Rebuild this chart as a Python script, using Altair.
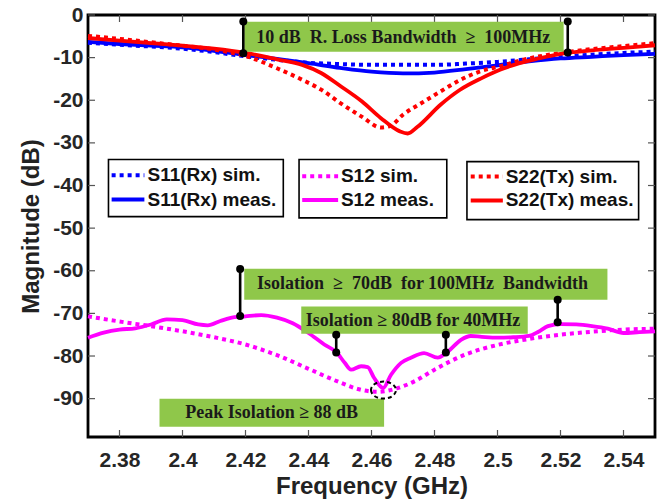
import altair as alt
import pandas as pd

# ---------------- data ----------------
x_ticks = [2.38, 2.40, 2.42, 2.44, 2.46, 2.48, 2.50, 2.52, 2.54]
y_ticks = [0, -10, -20, -30, -40, -50, -60, -70, -80, -90]

s11_sim_f = [2.37, 2.38, 2.39, 2.40, 2.41, 2.42, 2.43, 2.44, 2.45, 2.46, 2.47, 2.48, 2.49, 2.50, 2.51, 2.52, 2.53, 2.54, 2.55]
s11_sim_v = [-6.5, -7.0, -7.4, -7.9, -8.7, -9.7, -10.5, -11.2, -11.5, -11.7, -11.7, -11.7, -11.4, -11.0, -10.4, -9.8, -9.3, -8.9, -8.6]

s11_meas_f = [2.37, 2.38, 2.39, 2.40, 2.41, 2.42, 2.43, 2.44, 2.45, 2.46, 2.47, 2.48, 2.49, 2.50, 2.51, 2.52, 2.53, 2.54, 2.55]
s11_meas_v = [-6.3, -6.8, -7.2, -7.6, -8.4, -9.4, -10.3, -11.3, -12.4, -13.3, -13.7, -13.5, -12.7, -11.8, -10.9, -10.2, -9.8, -9.4, -9.1]

s22_sim_f = [2.37, 2.38, 2.39, 2.40, 2.41, 2.42, 2.43, 2.438, 2.444, 2.450, 2.457, 2.463, 2.466, 2.470, 2.476, 2.482, 2.488, 2.495, 2.501, 2.507, 2.52, 2.53, 2.54, 2.55]
s22_sim_v = [-4.9, -5.6, -6.4, -7.2, -8.1, -9.6, -12.5, -15.2, -17.5, -20.6, -23.9, -26.4, -26.0, -23.4, -20.6, -17.9, -15.3, -13.1, -12.0, -10.7, -8.9, -8.0, -7.3, -6.6]

s22_meas_f = [2.37, 2.38, 2.39, 2.40, 2.41, 2.42, 2.43, 2.438, 2.444, 2.450, 2.457, 2.463, 2.469, 2.4715, 2.4745, 2.482, 2.488, 2.495, 2.501, 2.507, 2.513, 2.52, 2.53, 2.54, 2.55]
s22_meas_v = [-5.4, -6.0, -6.6, -7.2, -7.9, -8.9, -10.4, -11.7, -13.6, -16.6, -20.3, -24.2, -27.3, -27.8, -26.3, -21.0, -17.6, -14.8, -12.8, -11.3, -10.2, -9.1, -8.3, -7.7, -7.1]

s12_sim_f = [2.37, 2.38, 2.39, 2.40, 2.41, 2.42, 2.43, 2.44, 2.45, 2.456, 2.462, 2.468, 2.474, 2.48, 2.49, 2.50, 2.51, 2.52, 2.53, 2.54, 2.55]
s12_sim_v = [-70.7, -71.9, -73.0, -74.2, -75.6, -77.3, -79.8, -83.0, -86.2, -87.8, -88.4, -87.6, -85.8, -83.2, -79.6, -77.4, -76.0, -75.0, -74.3, -73.8, -73.6]

s12_meas_f = [2.37, 2.375, 2.38, 2.385, 2.39, 2.395, 2.40, 2.405, 2.408, 2.412, 2.415, 2.42, 2.425, 2.43, 2.435,
              2.44, 2.445, 2.449, 2.4515, 2.4535, 2.4567, 2.4588, 2.4608, 2.4637, 2.4662, 2.4694, 2.4725, 2.4767,
              2.481, 2.4842, 2.4884, 2.4915, 2.495, 2.50, 2.505, 2.51, 2.513, 2.516, 2.52, 2.525, 2.53, 2.535,
              2.54, 2.545, 2.55]
s12_meas_v = [-75.7, -74.5, -73.8, -73.5, -72.6, -71.4, -71.6, -72.6, -72.8, -71.8, -71.1, -70.7, -70.4, -71.0, -72.3,
              -74.6, -77.3, -79.2, -81.6, -83.2, -82.4, -82.6, -85.1, -87.5, -84.4, -81.6, -80.4, -79.3,
              -80.4, -79.0, -76.2, -75.3, -75.5, -75.7, -75.6, -75.3, -74.3, -73.0, -72.5, -72.6, -73.0, -73.6,
              -74.6, -74.4, -74.2]

# annotation boxes (data units)
NB = "\u00a0"
ann_text = ["10 dB" + NB + " R. Loss Bandwidth" + NB + " \u2265" + NB + " 100MHz",
            "Isolation" + NB + " \u2265" + NB + " 70dB" + NB + " for 100MHz" + NB + " Bandwidth",
            "Isolation \u2265 80dB for 40MHz",
            "Peak Isolation \u2265 88 dB"]
ann_box_f1 = [2.4196, 2.4196, 2.4377, 2.3927]
ann_box_f2 = [2.5210, 2.5349, 2.5096, 2.4640]
ann_box_v1 = [-1.6, -59.5, -68.4, -90.0]
ann_box_v2 = [-8.6, -66.8, -74.8, -96.6]
ann_text_f = [2.4701, 2.4762, 2.4732, 2.4283]
ann_text_v = [-5.3, -63.2, -71.7, -93.3]

marker_f = [2.4193, 2.5223, 2.4183, 2.5191, 2.4488, 2.4836]
marker_top = [-1.5, -1.5, -59.6, -66.8, -75.0, -75.0]
marker_bot = [-9.0, -8.8, -70.6, -72.1, -79.2, -79.2]

peak_f = [2.4638]
peak_v = [-88.0]

# legend boxes (data units)
leg_box_f1 = [2.3765, 2.4370, 2.4903]
leg_box_f2 = [2.4320, 2.4839, 2.5448]
leg_box_v1 = [-33.9, -33.9, -34.4]
leg_box_v2 = [-47.3, -47.6, -48.0]
leg_labels = ["S11(Rx) sim.", "S11(Rx) meas.", "S12 sim.", "S12 meas.", "S22(Tx) sim.", "S22(Tx) meas."]
leg_sample_f1 = [2.3775, 2.3775, 2.4380, 2.4380, 2.4915, 2.4915]
leg_sample_f2 = [2.3879, 2.3879, 2.4494, 2.4494, 2.5017, 2.5017]
leg_text_f = [2.3889, 2.3889, 2.4503, 2.4503, 2.5026, 2.5026]
leg_row_v = [-37.6, -43.3, -37.8, -43.4, -37.9, -43.5]

BLUE, MAG, RED = "#0000ff", "#ff00ff", "#ff0000"
leg_colors = [BLUE, BLUE, MAG, MAG, RED, RED]
leg_dotted = [True, False, True, False, True, False]

# ---------------- chart ----------------
W, H = 567, 422
xs = alt.Scale(domain=[2.37, 2.55], nice=False, zero=False)
ys = alt.Scale(domain=[-99, 0], nice=False, zero=False)
SANS = "Liberation Sans"
SERIF = "Liberation Serif"

x_axis = alt.Axis(values=x_ticks, format="~g", title="Frequency (GHz)", ticks=False, domain=False, grid=False,
                  labelFont=SANS, labelFontWeight="bold", labelFontSize=21, labelColor="#262626",
                  labelPadding=12, labelFlush=False,
                  titleFont=SANS, titleFontWeight="bold", titleFontSize=24, titleColor="#222222", titlePadding=4)
y_axis = alt.Axis(values=y_ticks, labelExpr="toString(datum.value)", title="Magnitude (dB)", ticks=False,
                  domain=False, grid=False, labelFont=SANS, labelFontWeight="bold", labelFontSize=21,
                  labelColor="#262626", labelPadding=5, labelFlush=False,
                  titleFont=SANS, titleFontWeight="bold", titleFontSize=24, titleColor="#222222", titlePadding=9)


def X(field):
    return alt.X(field, scale=xs, axis=x_axis)


def Y(field):
    return alt.Y(field, scale=ys, axis=y_axis)


def curve(fs, vs, color, dotted):
    df = pd.DataFrame({"f": fs, "v": vs})
    if dotted:
        mk = alt.Chart(df).mark_line(color=color, strokeWidth=4, strokeDash=[4, 4], interpolate="monotone")
    else:
        mk = alt.Chart(df).mark_line(color=color, strokeWidth=3.8, interpolate="monotone")
    return mk.encode(x=X("f:Q"), y=Y("v:Q"))


layers = []
layers.append(curve(s11_sim_f, s11_sim_v, BLUE, True))
layers.append(curve(s11_meas_f, s11_meas_v, BLUE, False))
layers.append(curve(s12_sim_f, s12_sim_v, MAG, True))
layers.append(curve(s12_meas_f, s12_meas_v, MAG, False))
layers.append(curve(s22_sim_f, s22_sim_v, RED, True))
layers.append(curve(s22_meas_f, s22_meas_v, RED, False))

# inward ticks on all four sides
xt = pd.DataFrame({"f": x_ticks})
yt = pd.DataFrame({"v": y_ticks})
tick_style = dict(color="#555555", strokeWidth=1.2)
layers.append(alt.Chart(xt).mark_rule(**tick_style).encode(
    x=X("f:Q"), y=alt.value(H), y2=alt.value(H - 7)))
layers.append(alt.Chart(xt).mark_rule(**tick_style).encode(
    x=X("f:Q"), y=alt.value(0), y2=alt.value(7)))
layers.append(alt.Chart(yt).mark_rule(**tick_style).encode(
    y=Y("v:Q"), x=alt.value(0), x2=alt.value(7)))
layers.append(alt.Chart(yt).mark_rule(**tick_style).encode(
    y=Y("v:Q"), x=alt.value(W), x2=alt.value(W - 7)))

# legend boxes
lb = pd.DataFrame({"f1": leg_box_f1, "f2": leg_box_f2, "v1": leg_box_v1, "v2": leg_box_v2})
layers.append(alt.Chart(lb).mark_rect(fill="white", stroke="black", strokeWidth=1.6).encode(
    x=X("f1:Q"), x2="f2:Q", y=Y("v1:Q"), y2="v2:Q"))
for i in range(len(leg_labels)):
    d = pd.DataFrame({"f1": [leg_sample_f1[i]], "f2": [leg_sample_f2[i]], "v": [leg_row_v[i]],
                      "tf": [leg_text_f[i]], "t": [leg_labels[i]]})
    if leg_dotted[i]:
        rule = alt.Chart(d).mark_rule(color=leg_colors[i], strokeWidth=4, strokeDash=[4, 4])
    else:
        rule = alt.Chart(d).mark_rule(color=leg_colors[i], strokeWidth=4)
    layers.append(rule.encode(x=X("f1:Q"), x2="f2:Q", y=Y("v:Q")))
    layers.append(alt.Chart(d).mark_text(font=SANS, fontWeight="bold", fontSize=19, color="#111111",
                                         align="left", baseline="middle").encode(
        x=X("tf:Q"), y=Y("v:Q"), text="t:N"))

# green annotation boxes
ab = pd.DataFrame({"f1": ann_box_f1, "f2": ann_box_f2, "v1": ann_box_v1, "v2": ann_box_v2,
                   "tf": ann_text_f, "tv": ann_text_v, "t": ann_text})
layers.append(alt.Chart(ab).mark_rect(fill="#8fc74a").encode(
    x=X("f1:Q"), x2="f2:Q", y=Y("v1:Q"), y2="v2:Q"))
layers.append(alt.Chart(ab).mark_text(font=SERIF, fontWeight="bold", fontSize=18, color="#1a1a1a",
                                      align="center", baseline="middle").encode(
    x=X("tf:Q"), y=Y("tv:Q"), text="t:N"))

# markers (vertical bars with dots)
mk = pd.DataFrame({"f": marker_f, "top": marker_top, "bot": marker_bot})
layers.append(alt.Chart(mk).mark_rule(color="black", strokeWidth=2.6).encode(
    x=X("f:Q"), y=Y("top:Q"), y2="bot:Q"))
dots = pd.DataFrame({"f": marker_f + marker_f, "v": marker_top + marker_bot})
layers.append(alt.Chart(dots).mark_circle(color="black", size=64, opacity=1).encode(
    x=X("f:Q"), y=Y("v:Q")))

# dashed ellipse around peak isolation
pk = pd.DataFrame({"f": peak_f, "v": peak_v})
layers.append(alt.Chart(pk).mark_point(
    shape="M -1 0 A 1 0.68 0 1 0 1 0 A 1 0.68 0 1 0 -1 0 Z",
    size=625, filled=False, stroke="black", strokeWidth=2, strokeDash=[4, 3], opacity=1).encode(
    x=X("f:Q"), y=Y("v:Q")))

chart = alt.layer(*layers).properties(
    width=W, height=H,
    padding={"left": 88, "top": 15, "right": 6, "bottom": 67},
    autosize=alt.AutoSizeParams(type="none"),
    background="white",
).configure_view(stroke="black", strokeWidth=2.8)

chart.save("out.html", embed_options={"renderer": "svg", "actions": False})
